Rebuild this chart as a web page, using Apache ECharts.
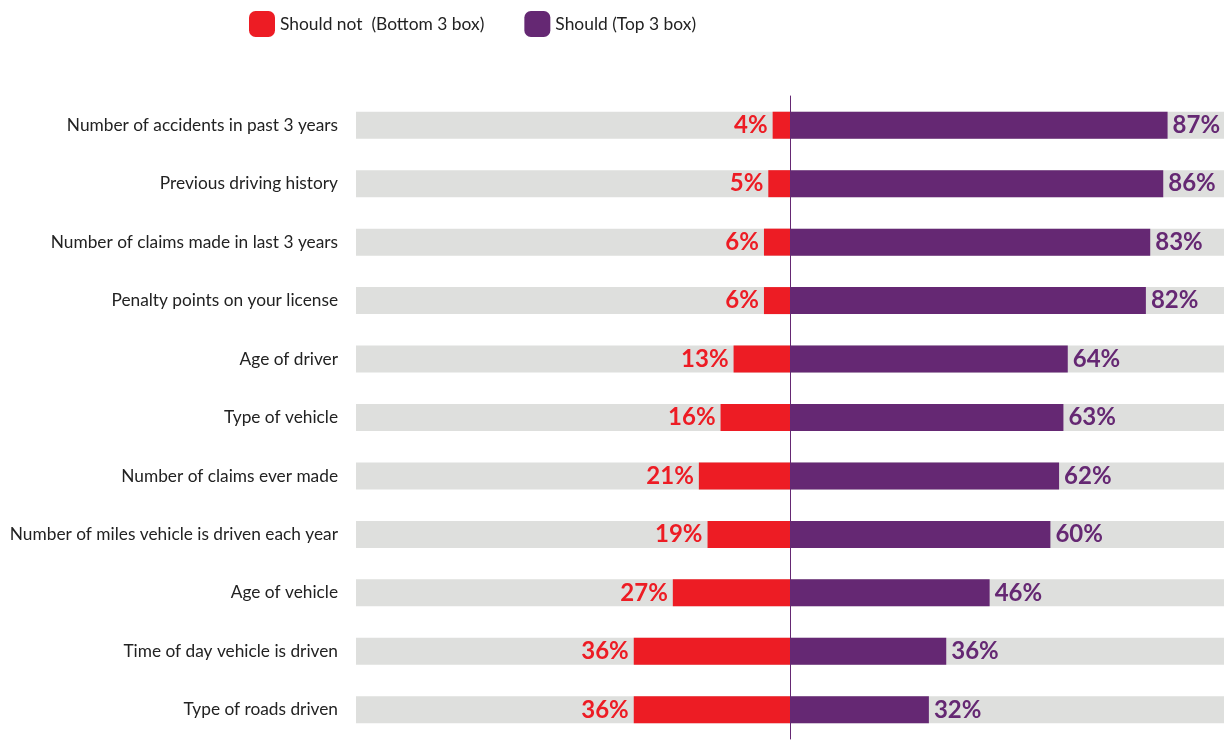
<!DOCTYPE html>
<html><head><meta charset="utf-8">
<script src="https://cdn.jsdelivr.net/npm/echarts@6/dist/echarts.min.js"></script>
<style>html,body{margin:0;padding:0;background:#fff}#c{width:1229px;height:740px}</style>
</head><body><div id="c"></div>
<script>
const categories = ["Number of accidents in past 3 years","Previous driving history","Number of claims made in last 3 years","Penalty points on your license","Age of driver","Type of vehicle","Number of claims ever made","Number of miles vehicle is driven each year","Age of vehicle","Time of day vehicle is driven","Type of roads driven"];
const shouldNot = [4,5,6,6,13,16,21,19,27,36,36];
const should = [87,86,83,82,64,63,62,60,46,36,32];
const seriesNames = ["Should not  (Bottom 3 box)","Should (Top 3 box)"];
const FONT = "Lato, 'Source Sans Pro', 'Noto Sans', sans-serif";
const chart = echarts.init(document.getElementById('c'));
chart.setOption({
  animation:false,
  textStyle:{fontFamily:FONT},
  legend:{left:249, top:11, padding:0, itemWidth:26, itemHeight:26, itemGap:40, icon:'roundRect',
    textStyle:{fontSize:17.4, color:'#222', fontFamily:FONT},
    data:seriesNames},
  grid:{left:356, right:5, top:96, bottom:1, containLabel:false},
  xAxis:{type:'value', min:-100, max:100, show:false},
  yAxis:{type:'category', data:categories, inverse:true,
    axisTick:{show:false},
    axisLine:{show:true, onZero:true, lineStyle:{color:'#652873', width:1}},
    axisLabel:{margin:18, fontSize:17.3, color:'#222', fontFamily:FONT},
    z:10},
  series:[
    {name:seriesNames[0], type:'bar', barWidth:27, barGap:'-100%',
      data:shouldNot.map(v=>-v),
      itemStyle:{color:'#ED1C24'},
      showBackground:true, backgroundStyle:{color:'#DEDFDD'},
      label:{show:true, position:'left', distance:5, fontSize:24, fontWeight:'bold', color:'#ED1C24', fontFamily:FONT,
        formatter:p=>Math.abs(p.value)+'%'}},
    {name:seriesNames[1], type:'bar', barWidth:27, barGap:'-100%',
      data:should,
      itemStyle:{color:'#652873'},
      label:{show:true, position:'right', distance:5, fontSize:24, fontWeight:'bold', color:'#652873', fontFamily:FONT,
        formatter:p=>p.value+'%'}}
  ]
});
</script></body></html>
